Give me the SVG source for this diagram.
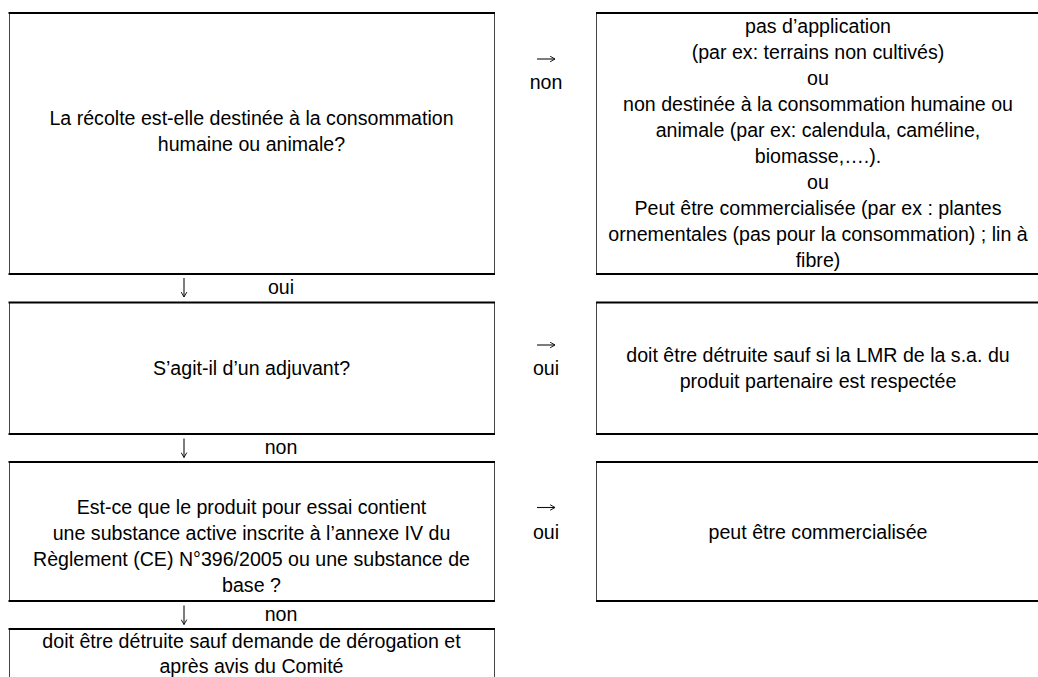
<svg xmlns="http://www.w3.org/2000/svg" width="1038" height="677" viewBox="0 0 1038 677">
  <style>
    .t { font-family: "Liberation Sans", Arial, sans-serif; font-size: 19.6px; fill: #000; text-anchor: middle; }
    .box { fill: #fff; stroke: #444; stroke-width: 1; }
    .hb { stroke: #000; stroke-width: 2.2; }
    .arr { stroke: #111; stroke-width: 1.1; fill: none; marker-end: url(#chev); }
  </style>
  <defs>
    <marker id="chev" viewBox="0 0 10 10" refX="9" refY="5" markerWidth="7" markerHeight="7" markerUnits="userSpaceOnUse" orient="auto">
      <path d="M2,1 L9,5 L2,9" fill="none" stroke="#111" stroke-width="1.4"/>
    </marker>
  </defs>
  <rect x="0" y="0" width="1038" height="677" fill="#fff"/>

  <g id="q1">
    <rect class="box" x="9.5" y="13" width="485" height="261"/>
    <line class="hb" x1="8.5" y1="13" x2="495" y2="13"/>
    <line class="hb" x1="8.5" y1="274" x2="495" y2="274"/>
    <text class="t" x="251.5" y="125">La récolte est-elle destinée à la consommation</text>
    <text class="t" x="251.5" y="151">humaine ou animale?</text>
  </g>

  <g id="r1">
    <rect class="box" x="596.5" y="13" width="445" height="261"/>
    <line class="hb" x1="596" y1="13" x2="1040" y2="13"/>
    <line class="hb" x1="596" y1="274" x2="1040" y2="274"/>
    <text class="t" x="818" y="33">pas d’application</text>
    <text class="t" x="818" y="59">(par ex: terrains non cultivés)</text>
    <text class="t" x="818" y="85">ou</text>
    <text class="t" x="818" y="111">non destinée à la consommation humaine ou</text>
    <text class="t" x="818" y="137">animale (par ex: calendula, caméline,</text>
    <text class="t" x="818" y="163">biomasse,….).</text>
    <text class="t" x="818" y="189">ou</text>
    <text class="t" x="818" y="215">Peut être commercialisée (par ex : plantes</text>
    <text class="t" x="818" y="241">ornementales (pas pour la consommation) ; lin à</text>
    <text class="t" x="818" y="267">fibre)</text>
  </g>

  <g id="q2">
    <rect class="box" x="9.5" y="302.5" width="485" height="131.5"/>
    <line class="hb" x1="8.5" y1="302.5" x2="495" y2="302.5"/>
    <line class="hb" x1="8.5" y1="434" x2="495" y2="434"/>
    <text class="t" x="251.5" y="375">S’agit-il d’un adjuvant?</text>
  </g>

  <g id="r2">
    <rect class="box" x="596.5" y="302.5" width="445" height="131.5"/>
    <line class="hb" x1="596" y1="302.5" x2="1040" y2="302.5"/>
    <line class="hb" x1="596" y1="434" x2="1040" y2="434"/>
    <text class="t" x="818" y="362">doit être détruite sauf si la LMR de la s.a. du</text>
    <text class="t" x="818" y="388">produit partenaire est respectée</text>
  </g>

  <g id="q3">
    <rect class="box" x="9.5" y="462" width="485" height="139"/>
    <line class="hb" x1="8.5" y1="462" x2="495" y2="462"/>
    <line class="hb" x1="8.5" y1="601" x2="495" y2="601"/>
    <text class="t" x="251.5" y="514">Est-ce que le produit pour essai contient</text>
    <text class="t" x="251.5" y="540">une substance active inscrite à l’annexe IV du</text>
    <text class="t" x="251.5" y="566">Règlement (CE) N°396/2005 ou une substance de</text>
    <text class="t" x="251.5" y="592">base ?</text>
  </g>

  <g id="r3">
    <rect class="box" x="596.5" y="462" width="445" height="139"/>
    <line class="hb" x1="596" y1="462" x2="1040" y2="462"/>
    <line class="hb" x1="596" y1="601" x2="1040" y2="601"/>
    <text class="t" x="818" y="539">peut être commercialisée</text>
  </g>

  <g id="end">
    <rect class="box" x="9.5" y="629" width="485" height="60"/>
    <line class="hb" x1="8.5" y1="629" x2="495" y2="629"/>
    <text class="t" x="251.5" y="648">doit être détruite sauf demande de dérogation et</text>
    <text class="t" x="251.5" y="673">après avis du Comité</text>
  </g>

  <g id="connectors">
    <line class="arr" x1="537" y1="59" x2="555" y2="59"/>
    <text class="t" x="546" y="89">non</text>
    <line class="arr" x1="537" y1="345" x2="555" y2="345"/>
    <text class="t" x="546" y="375">oui</text>
    <line class="arr" x1="537" y1="507.5" x2="555" y2="507.5"/>
    <text class="t" x="546" y="539">oui</text>

    <line class="arr" x1="184" y1="278" x2="184" y2="297"/>
    <text class="t" x="281" y="294">oui</text>
    <line class="arr" x1="184" y1="438.5" x2="184" y2="457.5"/>
    <text class="t" x="281" y="454">non</text>
    <line class="arr" x1="184" y1="605.5" x2="184" y2="624.5"/>
    <text class="t" x="281" y="621">non</text>
  </g>
</svg>
